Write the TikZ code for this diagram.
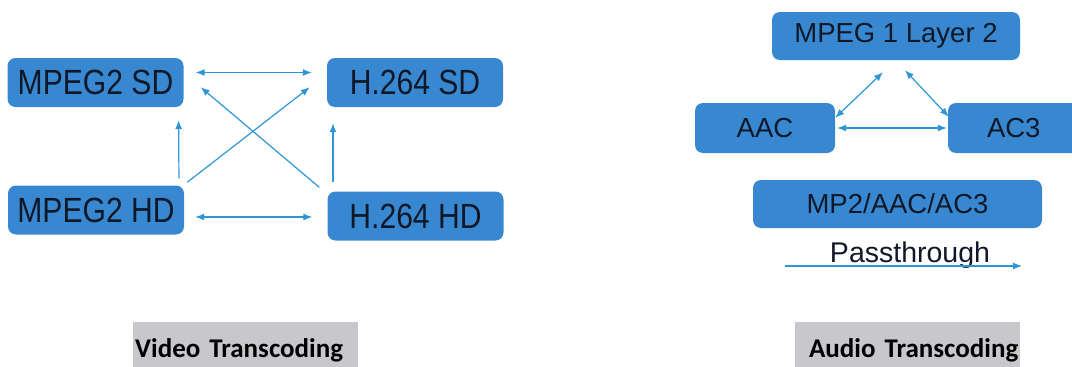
\documentclass[tikz,border=0pt]{standalone}
\usepackage{fontspec}
\setmainfont{Liberation Sans}
\newfontfamily\tallfont[FakeStretch=0.86]{Liberation Sans}
\newfontfamily\capfont{Carlito}
\usetikzlibrary{arrows.meta, positioning}
\definecolor{boxblue}{RGB}{56,136,209}
\definecolor{linkblue}{RGB}{45,150,215}
\definecolor{boxtext}{RGB}{16,24,40}
\definecolor{capgrey}{RGB}{200,199,204}

\begin{document}
\begin{tikzpicture}[
    x=1pt, y=-1pt,
    box/.style={rectangle, fill=boxblue, rounded corners=8pt, text=boxtext, inner sep=0pt},
    vbox/.style={box, font=\tallfont\fontsize{35}{36}\selectfont, minimum width=176pt, minimum height=49pt},
    abox/.style={box, font=\fontsize{27.5}{29}\selectfont, minimum height=48pt},
    link/.style={draw=linkblue, line width=1.2pt, {Latex[length=9pt,width=7pt]}-{Latex[length=9pt,width=7pt]}},
    onelink/.style={draw=linkblue, line width=1.2pt, -{Latex[length=9pt,width=7pt]}},
    caption/.style={rectangle, fill=capgrey, anchor=base west, inner sep=0pt, inner xsep=2pt, text width=221pt, text height=35pt, text depth=12pt, font=\capfont\bfseries\fontsize{27}{29}\selectfont}
]
\useasboundingbox (0,0) rectangle (1072,367);

% video transcoding
\node[vbox] (mpegsd) at (95.5,82.5) {MPEG2 SD};
\node[vbox] (hsd) at (415,82.5) {H.264 SD};
\node[vbox] (mpeghd) at (96,210) {MPEG2 HD};
\node[vbox] (hhd) at (415.5,216) {H.264 HD};

\draw[link, shorten <=12pt, shorten >=15pt] ([yshift=10pt]mpegsd.east) -- ([yshift=10pt]hsd.west);
\draw[link, shorten <=11pt, shorten >=15pt] ([yshift=-7pt]mpeghd.east) -- ([yshift=-1pt]hhd.west);
\draw[onelink, shorten <=7pt, shorten >=13pt] ([xshift=83pt]mpeghd.north) -- ([xshift=83pt]mpegsd.south);
\draw[onelink, shorten <=9pt, shorten >=16pt] ([xshift=-82.5pt]hhd.north) -- ([xshift=-82pt]hsd.south);
\draw[onelink] ([xshift=3pt,yshift=3pt]mpeghd.north east) -- ([xshift=-17pt,yshift=20pt]hsd.south west);
\draw[onelink] ([xshift=-8pt,yshift=4pt]hhd.north west) -- ([xshift=17pt,yshift=20pt]mpegsd.south east);

% audio transcoding
\node[abox, minimum width=248pt] (mpegone) at (896,36) {MPEG 1 Layer 2};
\node[abox, minimum width=140pt, minimum height=50pt] (aac) at (765,128) {AAC};
\node[abox, minimum width=142pt, minimum height=50pt, text width=122pt, align=left] (acthree) at (1019,128) {\hspace*{29pt}AC3};
\node[abox, minimum width=289pt] (passbox) at (897.5,204) {MP2/AAC/AC3};
\node[font=\fontsize{28.5}{30}\selectfont, text=boxtext, inner sep=0pt, anchor=base] (pass) at (910,262) {Passthrough};
\coordinate (passstart) at (785,266);
\coordinate (passend) at (1022,266);

\draw[link] ([xshift=-13pt,yshift=-12pt]mpegone.south) -- ([yshift=-15pt]aac.north east);
\draw[link] ([xshift=9pt,yshift=-10pt]mpegone.south) -- ([xshift=1pt,yshift=-14pt]acthree.north west);
\draw[link, shorten <=2pt, shorten >=1pt] (aac.east) -- (acthree.west);
\draw[onelink] (passstart) -- (passend);

% captions
\node[caption, align=left] (videocap) at (133,357) {Video Transcoding};
\node[caption, align=right] (audiocap) at (795,357) {Audio Transcoding};

\end{tikzpicture}
\end{document}
